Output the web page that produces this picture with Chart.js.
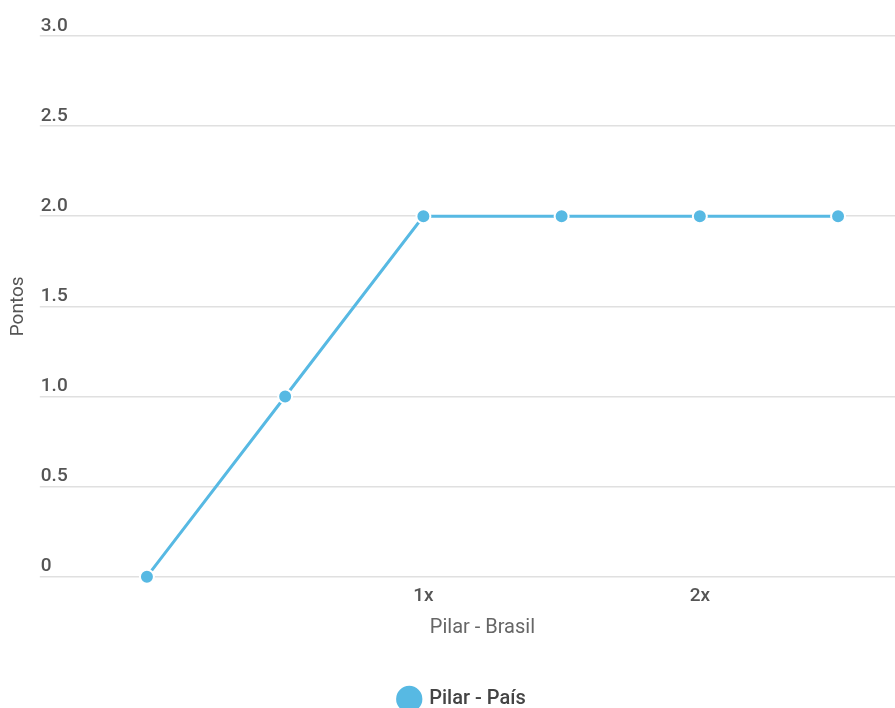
<!DOCTYPE html>
<html>
<head>
<meta charset="utf-8">
<script src="https://cdn.jsdelivr.net/npm/chart.js@4"></script>
<style>
  html, body { margin: 0; padding: 0; background: #fff; }
  #wrap { width: 895px; height: 708px; position: relative; }
</style>
</head>
<body>
<div id="wrap"><canvas id="chart" width="895" height="708"></canvas></div>
<script>
// Series: Pilar - País against Pilar - Brasil
const xValues = [0, 0.5, 1, 1.5, 2, 2.5];
const yValues = [0, 1, 2, 2, 2, 2];
const xTickValues = [1, 2];
const xTickLabels = ['1x', '2x'];
const yTickValues = [0, 0.5, 1, 1.5, 2, 2.5, 3];
const yTickLabels = ['0', '0.5', '1.0', '1.5', '2.0', '2.5', '3.0'];
const seriesName = 'Pilar - País';
const xTitle = 'Pilar - Brasil';
const yTitle = 'Pontos';

const lineColor = '#57b9e3';
const points = xValues.map((x, i) => ({ x: x, y: yValues[i] }));

new Chart(document.getElementById('chart'), {
  type: 'line',
  data: {
    datasets: [{
      label: seriesName,
      data: points,
      borderColor: lineColor,
      backgroundColor: lineColor,
      borderWidth: 3,
      pointRadius: 7,
      pointBorderWidth: 2,
      pointBorderColor: '#ffffff',
      pointBackgroundColor: lineColor,
      tension: 0,
      fill: false,
      clip: false
    }]
  },
  options: {
    responsive: false,
    animation: false,
    devicePixelRatio: 1,
    layout: { autoPadding: false, padding: { left: 0, right: -30, top: 36, bottom: -11 } },
    plugins: {
      tooltip: { enabled: false },
      legend: {
        position: 'bottom',
        labels: {
          usePointStyle: true,
          pointStyle: 'circle',
          color: '#444',
          font: { family: 'Roboto', size: 20, weight: '500' },
          padding: 10
        }
      }
    },
    scales: {
      x: {
        type: 'linear',
        min: -0.279,
        max: 2.706,
        afterBuildTicks: (scale) => { scale.ticks = xTickValues.map(v => ({ value: v })); },
        ticks: {
          callback: (v) => { const i = xTickValues.indexOf(v); return i >= 0 ? xTickLabels[i] : ''; },
          color: '#555',
          font: { family: 'Roboto', size: 19, weight: '500' },
          padding: 8,
          maxRotation: 0,
          autoSkip: false
        },
        grid: { display: false, drawTicks: false },
        border: { display: false },
        title: {
          display: true,
          text: xTitle,
          color: '#666',
          font: { family: 'Roboto', size: 20 },
          padding: { top: 0, bottom: 39.5 }
        }
      },
      y: {
        type: 'linear',
        min: 0,
        max: 3,
        afterBuildTicks: (scale) => { scale.ticks = yTickValues.map(v => ({ value: v })); },
        ticks: {
          callback: (v) => { const i = yTickValues.indexOf(v); return i >= 0 ? yTickLabels[i] : ''; },
          mirror: true,
          padding: -29,
          labelOffset: -10,
          color: '#555',
          font: { family: 'Roboto', size: 19, weight: '500' }
        },
        // tick marks continue the grid lines under the value labels
        grid: { color: '#e0e0e0', lineWidth: 1.5, drawTicks: true, tickLength: 30 },
        border: { display: false },
        title: {
          display: true,
          text: yTitle,
          color: '#555',
          font: { family: 'Roboto', size: 19 },
          padding: { top: 7, bottom: 68 }
        }
      }
    }
  }
});
</script>
</body>
</html>
